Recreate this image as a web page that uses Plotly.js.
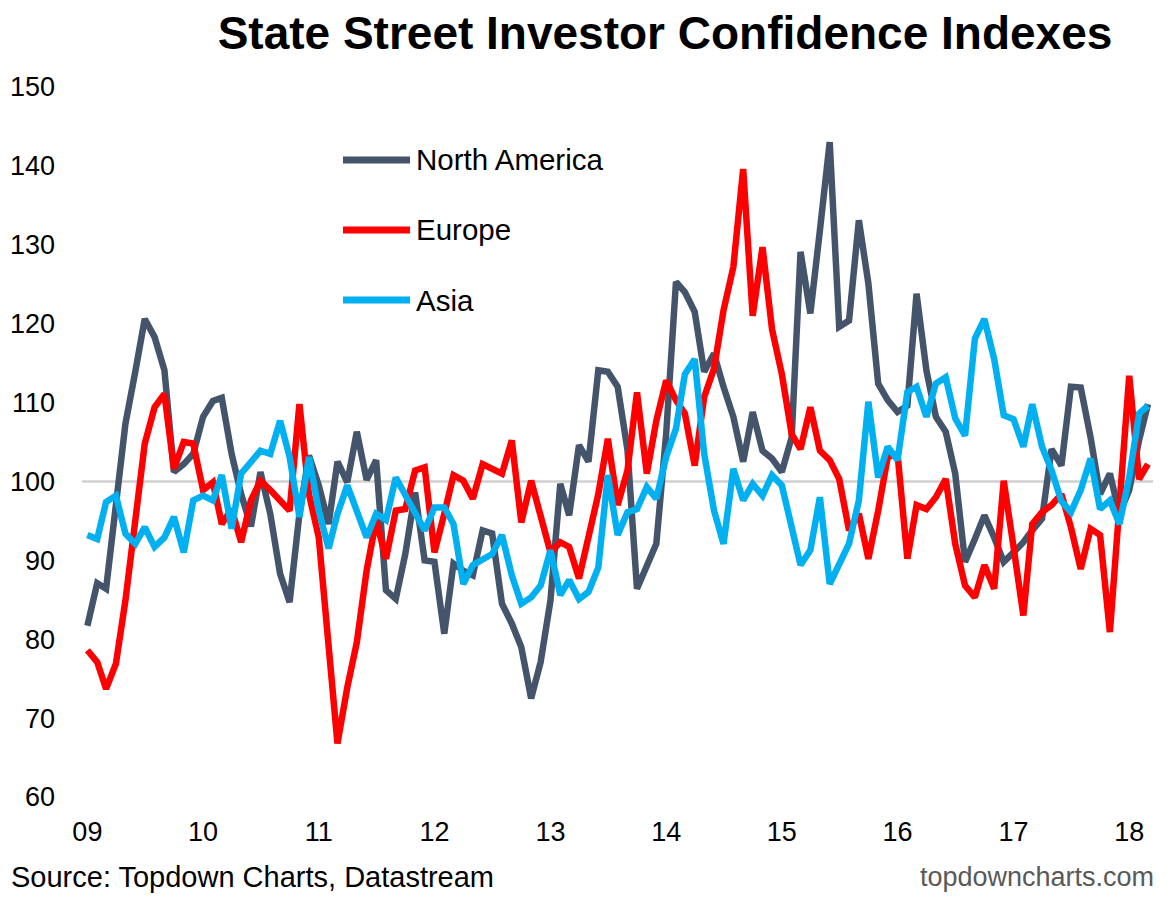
<!DOCTYPE html>
<html>
<head>
<meta charset="utf-8">
<script src="https://cdn.plot.ly/plotly-3.0.1.min.js"></script>
<style>
  html, body { margin: 0; padding: 0; background: #ffffff; }
  #chart { width: 1175px; height: 899px; }
</style>
</head>
<body>
<div id="chart"></div>
<script>
// Monthly data, Jan 2009 .. Mar 2018 (111 months)
const startYear = 2009;
const startMonth = 1;

const northAmerica = [
  81.7, 87.1, 86.4, 97.5, 107.3, 113.9, 120.6, 118.3, 114.1, 101.2,
  102.2, 103.5, 108.2, 110.2, 110.6, 103.5, 98.4, 94.3, 101.2, 95.9,
  88.3, 84.7, 95.9, 103.3, 99.5, 94.6, 102.5, 99.9, 106.3, 100.2,
  102.7, 86.2, 85.1, 90.8, 98.6, 90.0, 89.8, 80.7, 89.6, 88.7,
  88.1, 93.8, 93.4, 84.5, 82.0, 79.0, 72.5, 77.1, 84.9, 99.7,
  95.7, 104.6, 102.5, 114.1, 113.9, 112.0, 104.0, 86.4, 89.1, 92.1,
  106.0, 125.3, 124.0, 121.5, 113.9, 116.2, 112.0, 108.2, 102.5, 108.8,
  103.9, 102.9, 101.2, 105.6, 129.1, 121.3, 131.8, 143.0, 119.6, 120.4,
  133.1, 125.1, 112.4, 110.3, 108.8, 109.6, 123.8, 114.1, 108.2, 106.3,
  101.0, 89.8, 92.7, 95.7, 92.9, 89.8, 91.0, 92.3, 93.8, 95.3,
  104.1, 102.0, 112.0, 111.9, 105.6, 98.4, 101.0, 95.9, 98.9, 105.2, 109.8
];

const europe = [
  78.6, 77.1, 73.7, 76.9, 84.9, 95.1, 104.8, 109.4, 111.1, 101.6,
  105.0, 104.8, 98.9, 99.9, 94.6, 96.5, 92.3, 97.6, 100.1, 98.9,
  97.6, 96.3, 109.8, 98.4, 92.9, 79.8, 66.8, 73.9, 79.6, 88.7,
  95.1, 90.2, 96.3, 96.5, 101.4, 101.8, 91.0, 95.9, 100.8, 100.1,
  97.8, 102.2, 101.6, 101.0, 105.2, 94.8, 100.1, 95.9, 91.0, 92.3,
  91.7, 87.7, 93.0, 98.4, 105.4, 97.0, 101.4, 111.3, 101.0, 107.7,
  112.8, 110.3, 108.6, 102.0, 110.7, 114.3, 121.7, 127.2, 139.6, 121.0,
  129.7, 119.3, 113.6, 106.0, 104.1, 109.4, 103.9, 102.7, 100.3, 93.8,
  95.9, 90.2, 96.3, 103.1, 103.5, 90.2, 97.0, 96.5, 98.0, 100.3,
  92.1, 86.8, 85.3, 89.4, 86.4, 100.1, 91.7, 83.0, 94.6, 96.1,
  97.0, 98.4, 94.2, 88.9, 94.0, 93.2, 80.9, 95.9, 113.4, 100.3, 102.2
];

const asia = [
  93.2, 92.7, 97.4, 98.2, 93.4, 92.1, 94.2, 91.7, 92.9, 95.5,
  91.0, 97.6, 98.2, 97.6, 100.8, 94.0, 101.0, 102.5, 103.9, 103.5,
  107.7, 103.1, 95.5, 103.1, 96.3, 91.5, 95.9, 99.5, 96.3, 92.9,
  95.9, 95.1, 100.5, 98.4, 95.9, 93.8, 96.7, 96.7, 94.6, 87.0,
  89.4, 90.2, 90.8, 93.2, 88.1, 84.5, 85.3, 86.8, 91.3, 85.6,
  87.5, 85.1, 86.0, 89.1, 100.8, 93.2, 96.1, 96.5, 99.3, 97.8,
  103.1, 106.7, 113.6, 115.5, 103.5, 96.3, 92.1, 101.6, 97.6, 99.7,
  98.2, 100.8, 99.5, 94.2, 89.4, 91.3, 98.0, 87.0, 89.6, 92.1,
  97.6, 110.1, 100.5, 104.4, 102.7, 111.3, 112.0, 108.2, 112.4, 113.2,
  108.0, 105.8, 118.1, 120.6, 115.5, 108.4, 107.9, 104.4, 109.8, 104.4,
  101.4, 97.5, 96.1, 98.9, 102.9, 96.5, 97.6, 94.6, 100.5, 108.6, 109.6
];

const seriesNames = ['North America', 'Europe', 'Asia'];
const seriesColors = ['#44546A', '#FF0000', '#00B0F0'];

const tickYears = [2009, 2010, 2011, 2012, 2013, 2014, 2015, 2016, 2017, 2018];
const tickLabels = ['09', '10', '11', '12', '13', '14', '15', '16', '17', '18'];

// Build month dates
function monthDates(n) {
  const out = [];
  for (let i = 0; i < n; i++) {
    const total = (startMonth - 1) + i;
    const y = startYear + Math.floor(total / 12);
    const m = (total % 12) + 1;
    out.push(y + '-' + String(m).padStart(2, '0') + '-01');
  }
  return out;
}
const dates = monthDates(northAmerica.length);

const FONT = '"Liberation Sans", Arial, Helvetica, sans-serif';

const allSeries = [northAmerica, europe, asia];
const traces = allSeries.map((vals, i) => ({
  x: dates,
  y: vals,
  type: 'scatter',
  mode: 'lines',
  name: seriesNames[i],
  line: { color: seriesColors[i], width: 6.5, shape: 'linear' },
  showlegend: false,
  hoverinfo: 'x+y+name'
}));

// Manual legend (long line keys as in the original)
const legendY = [0.8972, 0.7986, 0.700];
const legendShapes = seriesNames.map((n, i) => ({
  type: 'line', xref: 'paper', yref: 'paper',
  x0: 0.2437, x1: 0.3063, y0: legendY[i], y1: legendY[i],
  line: { color: seriesColors[i], width: 7 }
}));
const legendAnn = seriesNames.map((n, i) => ({
  xref: 'paper', yref: 'paper', x: 0.3100, y: legendY[i],
  xanchor: 'left', yanchor: 'middle', text: n, showarrow: false,
  font: { family: FONT, size: 29.5, color: '#000000' }
}));

const layout = {
  width: 1175,
  height: 899,
  margin: { l: 82, r: 22, t: 87, b: 102 },
  paper_bgcolor: '#ffffff',
  plot_bgcolor: '#ffffff',
  title: {
    text: '<b>State Street Investor Confidence Indexes</b>',
    x: 665 / 1175, xanchor: 'center', xref: 'container',
    y: 1 - 33 / 899, yanchor: 'middle', yref: 'container',
    font: { family: FONT, size: 46, color: '#000000' }
  },
  xaxis: {
    type: 'date',
    range: ['2008-12-15', '2018-03-17'],
    tickvals: tickYears.map(y => y + '-01-01'),
    ticktext: tickLabels,
    showgrid: false, zeroline: false, showline: false,
    ticks: '',
    ticklabelstandoff: 16,
    tickfont: { family: FONT, size: 27, color: '#000000' },
    fixedrange: true
  },
  yaxis: {
    range: [60, 150],
    tickvals: [60, 70, 80, 90, 100, 110, 120, 130, 140, 150],
    showgrid: false, zeroline: false, showline: false,
    ticks: '',
    ticklabelstandoff: 26,
    tickfont: { family: FONT, size: 27, color: '#000000' },
    fixedrange: true
  },
  shapes: [
    {
      type: 'line', xref: 'paper', yref: 'y', layer: 'below',
      x0: 0, x1: 1, y0: 100, y1: 100,
      line: { color: '#D0D0D0', width: 2.5 }
    }
  ].concat(legendShapes),
  annotations: [
    {
      xref: 'paper', yref: 'paper', x: -73 / 1071, y: (797 - 877) / 710,
      xanchor: 'left', yanchor: 'middle', showarrow: false,
      text: 'Source: Topdown Charts, Datastream',
      font: { family: FONT, size: 29, color: '#000000' }
    },
    {
      xref: 'paper', yref: 'paper', x: (1156 - 82) / 1071, y: (797 - 877) / 710,
      xanchor: 'right', yanchor: 'middle', showarrow: false,
      text: 'topdowncharts.com',
      font: { family: FONT, size: 27, color: '#595959' }
    }
  ].concat(legendAnn),
  showlegend: false
};

Plotly.newPlot('chart', traces, layout, { displayModeBar: false, staticPlot: true });
</script>
</body>
</html>
